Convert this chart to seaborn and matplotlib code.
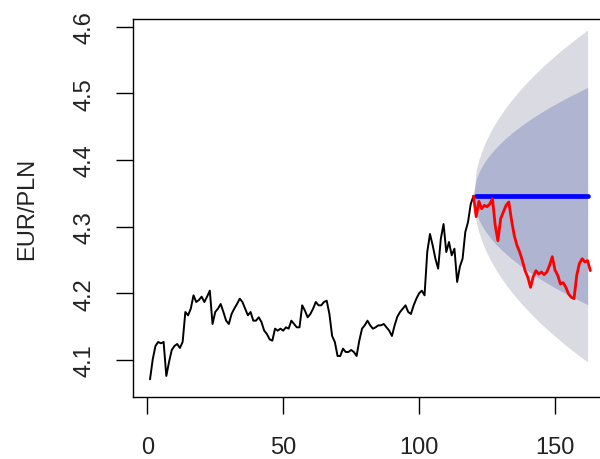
import matplotlib
matplotlib.use("Agg")
import matplotlib.pyplot as plt
import numpy as np
import pandas as pd
import seaborn as sns

# Observed EUR/PLN daily rates (t = 1..120)
hist_rate = [
    4.071, 4.101, 4.121, 4.127, 4.125, 4.127, 4.076, 4.097, 4.115, 4.121,
    4.124, 4.118, 4.127, 4.172, 4.167, 4.177, 4.197, 4.187, 4.190, 4.195,
    4.187, 4.195, 4.204, 4.154, 4.172, 4.177, 4.184, 4.172, 4.159, 4.154,
    4.169, 4.177, 4.184, 4.192, 4.187, 4.177, 4.167, 4.172, 4.159, 4.159,
    4.164, 4.157, 4.144, 4.139, 4.131, 4.129, 4.147, 4.144, 4.147, 4.144,
    4.149, 4.147, 4.159, 4.154, 4.149, 4.149, 4.182, 4.174, 4.164, 4.169,
    4.177, 4.187, 4.182, 4.182, 4.187, 4.189, 4.169, 4.136, 4.127, 4.106,
    4.106, 4.117, 4.112, 4.112, 4.115, 4.112, 4.106, 4.129, 4.147, 4.152,
    4.159, 4.152, 4.147, 4.149, 4.152, 4.152, 4.154, 4.149, 4.144, 4.136,
    4.152, 4.165, 4.172, 4.177, 4.182, 4.172, 4.169, 4.182, 4.192, 4.200,
    4.204, 4.197, 4.262, 4.289, 4.272, 4.252, 4.237, 4.282, 4.304, 4.262,
    4.277, 4.257, 4.267, 4.217, 4.240, 4.252, 4.292, 4.307, 4.334, 4.346,
]

# Realised rates over the forecast period (t = 120..163)
test_rate = [
    4.346, 4.315, 4.338, 4.327, 4.332, 4.330, 4.334, 4.342, 4.302, 4.279,
    4.312, 4.322, 4.332, 4.337, 4.310, 4.287, 4.272, 4.262, 4.249, 4.234,
    4.224, 4.209, 4.225, 4.234, 4.229, 4.232, 4.228, 4.232, 4.242, 4.255,
    4.235, 4.227, 4.214, 4.216, 4.209, 4.199, 4.194, 4.192, 4.227, 4.245,
    4.252, 4.247, 4.249, 4.234,
]

# Naive (random-walk) forecast: flat at the last observation
horizon = 42
step_sigma = 0.0196          # residual std of daily changes
levels_z = {95: 1.96, 80: 1.2816}

x_ticks = [0, 50, 100, 150]
y_ticks = [4.1, 4.2, 4.3, 4.4, 4.5, 4.6]

t_hist = np.arange(1, len(hist_rate) + 1)
t_test = np.arange(len(hist_rate), len(hist_rate) + len(test_rate))
last = hist_rate[-1]
h = np.arange(0, horizon + 1)
t_fc = len(hist_rate) + h
fc_mean = np.full(h.shape, last)

sns.set_style("white")
plt.rcParams["font.family"] = ["Liberation Sans", "DejaVu Sans"]

fig = plt.figure(figsize=(6, 4.6), dpi=100)
ax = fig.add_axes([133.3 / 600, 1 - 398.3 / 460, (608 - 133.3) / 600, (398.3 - 20) / 460])

# prediction intervals
for lvl, col in [(95, "#DADAE2"), (80, "#AFB4D0")]:
    hw = levels_z[lvl] * step_sigma * np.sqrt(h)
    ax.fill_between(t_fc, fc_mean - hw, fc_mean + hw, color=col, lw=0, zorder=1)

hist_df = pd.DataFrame({"t": t_hist, "rate": hist_rate})
test_df = pd.DataFrame({"t": t_test, "rate": test_rate})
fc_df = pd.DataFrame({"t": t_fc[1:], "rate": fc_mean[1:]})

sns.lineplot(data=hist_df, x="t", y="rate", color="black", lw=1.4, ax=ax, zorder=3)
sns.lineplot(data=fc_df, x="t", y="rate", color="#0000FF", lw=3.4, ax=ax, zorder=4)
sns.lineplot(data=test_df, x="t", y="rate", color="#FF0000", lw=2.0, ax=ax, zorder=5)

ax.set_xlim(-5.15, 169.5)
ax.set_ylim(4.044, 4.6116)
ax.set_xticks(x_ticks)
ax.set_xticklabels([str(v) for v in x_ticks])
ax.set_yticks(y_ticks)
ax.set_yticklabels([f"{v:.1f}" for v in y_ticks])

ax.tick_params(axis="both", which="major", bottom=True, left=True, direction="out",
               length=12, width=1.0, color="black", labelsize=17, labelcolor="#222222")
ax.tick_params(axis="x", pad=16)
ax.tick_params(axis="y", pad=15, labelrotation=90)
for lab in ax.get_yticklabels():
    lab.set_va("center")

ax.set_xlabel("")
ax.set_ylabel("EUR/PLN", fontsize=17, color="#222222")
ax.yaxis.set_label_coords(-0.200, 0.5)

for sp in ax.spines.values():
    sp.set_visible(True)
    sp.set_color("black")
    sp.set_linewidth(1.0)

fig.savefig("out.png", dpi=100)
